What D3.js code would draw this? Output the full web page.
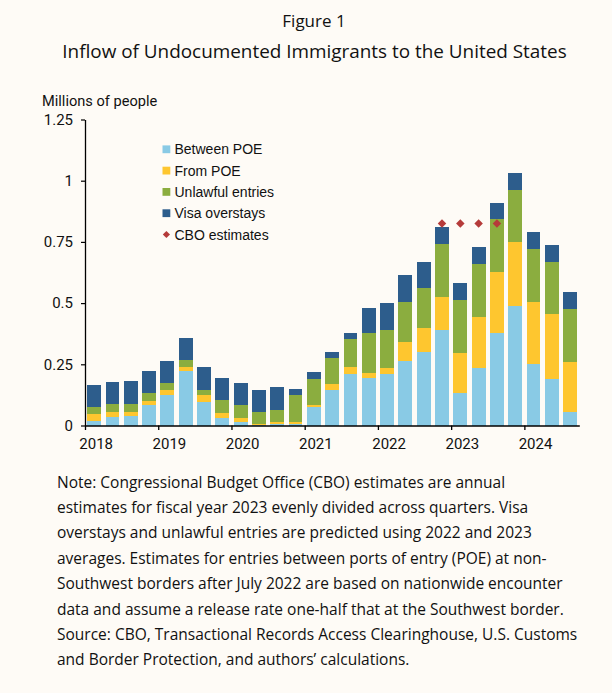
<!DOCTYPE html>
<html>
<head>
<meta charset="utf-8">
<script src="https://cdn.jsdelivr.net/npm/d3@7"></script>
<style>
  html, body { margin: 0; padding: 0; background: #FEFBF6; }
  svg { display: block; }
</style>
</head>
<body>
<svg id="chart" width="612" height="693"></svg>
<script>
// ---------------- DATA ----------------
const quarters = [
  "2018Q1","2018Q2","2018Q3","2018Q4",
  "2019Q1","2019Q2","2019Q3","2019Q4",
  "2020Q1","2020Q2","2020Q3","2020Q4",
  "2021Q1","2021Q2","2021Q3","2021Q4",
  "2022Q1","2022Q2","2022Q3","2022Q4",
  "2023Q1","2023Q2","2023Q3","2023Q4",
  "2024Q1","2024Q2","2024Q3"
];
const betweenPOE = [0.020,0.033,0.038,0.082,0.123,0.221,0.094,0.030,0.016,0.004,0.007,0.008,0.074,0.147,0.210,0.194,0.210,0.262,0.300,0.392,0.131,0.234,0.376,0.488,0.253,0.188,0.055];
const fromPOE    = [0.025,0.024,0.019,0.020,0.024,0.020,0.029,0.023,0.013,0.004,0.007,0.008,0.008,0.021,0.031,0.019,0.023,0.081,0.097,0.131,0.167,0.208,0.250,0.260,0.250,0.266,0.203];
const unlawful   = [0.029,0.029,0.029,0.029,0.025,0.025,0.024,0.053,0.053,0.049,0.051,0.107,0.106,0.106,0.111,0.163,0.159,0.160,0.163,0.217,0.213,0.216,0.216,0.213,0.217,0.212,0.216];
const visa       = [0.090,0.090,0.094,0.090,0.090,0.090,0.090,0.090,0.090,0.090,0.094,0.028,0.029,0.028,0.024,0.106,0.107,0.110,0.106,0.069,0.070,0.070,0.066,0.069,0.069,0.070,0.070];
const cboQuarters = ["2022Q4","2023Q1","2023Q2","2023Q3"];
const cboValues   = [0.825,0.825,0.825,0.825];
const seriesNames = ["Between POE","From POE","Unlawful entries","Visa overstays"];
const yTicks = [0, 0.25, 0.5, 0.75, 1, 1.25];
const yTickLabels = ["0","0.25","0.5","0.75","1","1.25"];
const xYears = [2018, 2019, 2020, 2021, 2022, 2023, 2024];
const xYearLabels = ["2018","2019","2020","2021","2022","2023","2024"];
const titleTop = "Figure 1";
const titleMain = "Inflow of Undocumented Immigrants to the United States";
const yAxisTitle = "Millions of people";
const noteLines = [
  "Note: Congressional Budget Office (CBO) estimates are annual",
  "estimates for fiscal year 2023 evenly divided across quarters. Visa",
  "overstays and unlawful entries are predicted using 2022 and 2023",
  "averages. Estimates for entries between ports of entry (POE) at non-",
  "Southwest borders after July 2022 are based on nationwide encounter",
  "data and assume a release rate one-half that at the Southwest border.",
  "Source: CBO, Transactional Records Access Clearinghouse, U.S. Customs",
  "and Border Protection, and authors\u2019 calculations."
];

// ---------------- STYLE / LAYOUT ----------------
const colors = ["#89CAE5", "#FEC62F", "#8BAD3F", "#2D5D8C"];
const cboColor = "#B53B3A";
const axisFont = "Roboto, 'Liberation Sans', Arial, sans-serif";
const legendFont = "'Liberation Sans', Arial, sans-serif";
const titleFont = "'Open Sans', Lato, sans-serif";

const svg = d3.select("#chart");
const plot = { left: 85, right: 579.3, top: 119.5, bottom: 425.5 };

const x = d3.scaleBand().domain(quarters).range([plot.left, plot.right]).paddingInner(0.24).paddingOuter(0.12);
const xYear = d3.scaleLinear().domain([2018, 2018 + quarters.length / 4]).range([plot.left, plot.right]);
const y = d3.scaleLinear().domain([0, 1.25]).range([plot.bottom, plot.top]);

// stacked data
const table = quarters.map((q, i) => ({
  q,
  "Between POE": betweenPOE[i],
  "From POE": fromPOE[i],
  "Unlawful entries": unlawful[i],
  "Visa overstays": visa[i]
}));
const stack = d3.stack().keys(seriesNames)(table);

svg.append("g").selectAll("g")
  .data(stack).join("g")
  .attr("fill", (d, i) => colors[i])
  .selectAll("rect")
  .data(d => d).join("rect")
  .attr("x", d => x(d.data.q))
  .attr("width", x.bandwidth())
  .attr("y", d => y(d[1]))
  .attr("height", d => y(d[0]) - y(d[1]))
  .attr("shape-rendering", "crispEdges");

// CBO diamonds
const diamond = d3.symbol().type(d3.symbolSquare).size(36);
svg.append("g").selectAll("path")
  .data(cboQuarters.map((q, i) => ({ q, v: cboValues[i] })))
  .join("path")
  .attr("d", diamond)
  .attr("fill", cboColor)
  .attr("transform", d => `translate(${x(d.q) + x.bandwidth() / 2},${y(d.v)}) rotate(45)`);

// Y axis
const yAxis = d3.axisLeft(y).tickValues(yTicks).tickFormat((d, i) => yTickLabels[i]).tickSize(4).tickSizeOuter(0).tickPadding(8);
const gy = svg.append("g").attr("transform", `translate(${plot.left},0)`).call(yAxis);
gy.select(".domain").attr("stroke", "#000").attr("stroke-width", 1.3);
gy.selectAll(".tick line").attr("stroke", "#000").attr("stroke-width", 1.2);
gy.selectAll(".tick text").attr("font-family", axisFont).attr("font-size", 15).attr("fill", "#111");

// X axis
const quarterW = (plot.right - plot.left) / quarters.length;
const xAxis = d3.axisBottom(xYear).tickValues(xYears).tickFormat((d, i) => xYearLabels[i]).tickSize(4.5).tickSizeOuter(0).tickPadding(8);
const gx = svg.append("g").attr("transform", `translate(0,${plot.bottom})`).call(xAxis);
gx.select(".domain").attr("stroke", "#000").attr("stroke-width", 1.5);
gx.selectAll(".tick line").attr("stroke", "#000").attr("stroke-width", 1.3);
gx.selectAll(".tick text").attr("font-family", axisFont).attr("font-size", 15).attr("fill", "#111")
  .attr("dx", quarterW / 2 + 1.5);

// Y axis title
svg.append("text").attr("x", 42).attr("y", 105.5)
  .attr("font-family", axisFont).attr("font-size", 14.6).attr("fill", "#111")
  .text(yAxisTitle);

// Legend
const legendItems = seriesNames.map((n, i) => ({ name: n, color: colors[i], type: "rect" }))
  .concat([{ name: "CBO estimates", color: cboColor, type: "diamond" }]);
const lg = svg.append("g");
legendItems.forEach((d, i) => {
  const cy = 149.3 + i * 21.3;
  if (d.type === "rect") {
    lg.append("rect").attr("x", 162.5).attr("y", cy - 3.9).attr("width", 7.8).attr("height", 7.8).attr("fill", d.color);
  } else {
    lg.append("path").attr("d", d3.symbol().type(d3.symbolSquare).size(26)())
      .attr("transform", `translate(166.4,${cy}) rotate(45)`).attr("fill", d.color);
  }
  lg.append("text").attr("x", 174.5).attr("y", cy + 5)
    .attr("font-family", legendFont).attr("font-size", 14).attr("fill", "#111")
    .text(d.name);
});

// Titles
svg.append("text").attr("x", 314).attr("y", 27).attr("text-anchor", "middle")
  .attr("font-family", titleFont).attr("font-size", 17).attr("fill", "#111").text(titleTop);
svg.append("text").attr("x", 314.5).attr("y", 58).attr("text-anchor", "middle")
  .attr("font-family", titleFont).attr("font-size", 18.9).attr("fill", "#111").text(titleMain);

// Note
const note = svg.append("text").attr("font-family", titleFont).attr("font-size", 15.5).attr("fill", "#111");
noteLines.forEach((line, i) => {
  note.append("tspan").attr("x", 57).attr("y", 487.5 + i * 25.4).text(line);
});
</script>
</body>
</html>
